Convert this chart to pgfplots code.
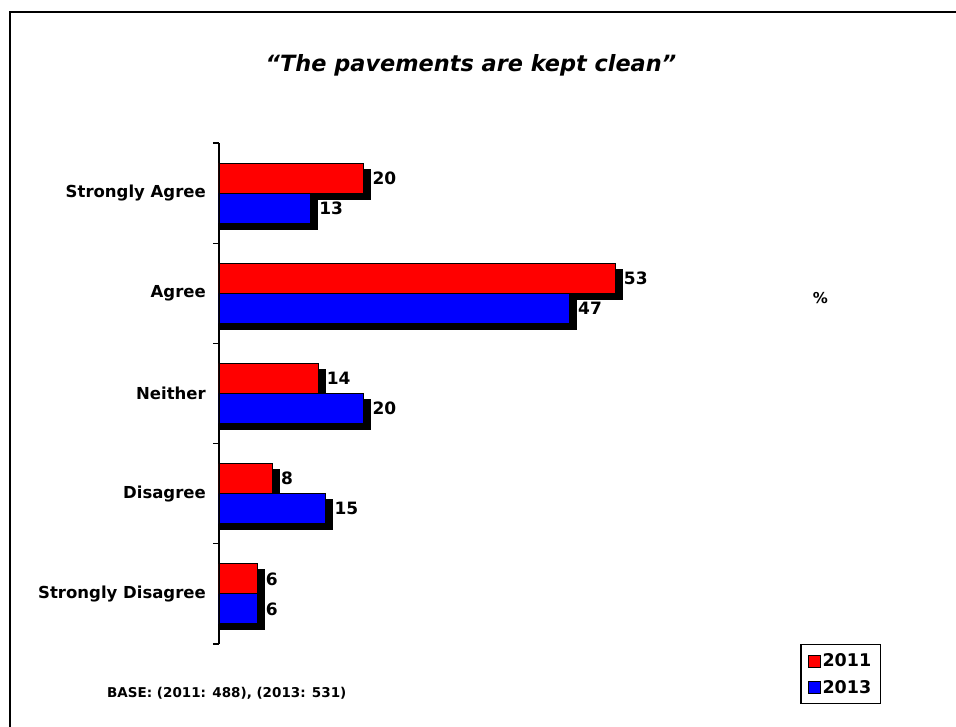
\documentclass[border=0pt]{standalone}
\usepackage{pgfplots}
\pgfplotsset{compat=1.18}
\usepackage{pgfplotstable}
\usepackage{fontspec}
\setmainfont{DejaVu Sans}
\pgfplotstableread{
pos y2011 y2013
4 20 13
3 53 47
2 14 20
1 8 15
0 6 6
}\datatable
\begin{document}
\begin{tikzpicture}[x=1pt,y=1pt]
\useasboundingbox (0,0) rectangle (956,727);
\fill[white] (0,0) rectangle (956,727);
\draw[line width=2pt] (10,0) -- (10,715) -- (956,715);
\node[anchor=base, font=\fontsize{22.4}{27}\selectfont\bfseries\itshape] at (471,655) {“The pavements are kept clean”};
\node[anchor=west, font=\fontsize{13.5}{16}\selectfont\bfseries, inner sep=0pt] at (107,34) {BASE: (2011: 488), (2013: 531)};
\node[anchor=center, font=\fontsize{15}{18}\selectfont\bfseries, inner sep=0pt] at (820.5,429) {\%};
\begin{axis}[
  at={(219pt,83pt)}, anchor=south west,
  scale only axis, width=444pt, height=501pt,
  xmin=1.0, xmax=59.3, ymin=-0.5, ymax=4.5,
  xbar, bar width=30pt,
  axis x line=none, axis y line=left,
  y axis line style={-, line width=1.2pt},
  ytick={0,...,4},
  yticklabels={Strongly Disagree, Disagree, Neither, Agree, Strongly Agree},
  major tick length=0pt,
  minor ytick={-0.5,0.5,...,4.5},
  minor tick length=6pt, tick align=outside,
  tick style={black, line width=1.2pt},
  yticklabel style={font=\fontsize{16.5}{20}\selectfont\bfseries, inner sep=0pt, xshift=-13pt},
  /pgf/number format/assume math mode=true,
  legend cell align=left,
  legend style={at={(rel axis cs:1.491,0)}, anchor=north east, draw=black, line width=1.5pt,
    font=\fontsize{17.5}{21}\selectfont\bfseries, inner xsep=7pt, inner ysep=7pt, row sep=8pt},
  legend image code/.code={\draw[#1, draw=black, line width=0.8pt] (0pt,-6pt) rectangle (12pt,6pt);},
]
\addplot[fill=black, draw=black, line width=0pt, bar shift=9pt, forget plot] table[x expr=\thisrow{y2011}+0.95, y=pos] \datatable;
\addplot[fill=red, draw=black, line width=0.8pt, bar shift=15pt,
  nodes near coords, every node near coord/.append style={font=\fontsize{17}{20}\selectfont\bfseries, anchor=west, inner sep=0pt, xshift=8.5pt}]
  table[x=y2011, y=pos] \datatable;
\addlegendentry{2011}
\addplot[fill=black, draw=black, line width=0pt, bar shift=-21pt, forget plot] table[x expr=\thisrow{y2013}+0.95, y=pos] \datatable;
\addplot[fill=blue, draw=black, line width=0.8pt, bar shift=-15pt,
  nodes near coords, every node near coord/.append style={font=\fontsize{17}{20}\selectfont\bfseries, anchor=west, inner sep=0pt, xshift=8.5pt}]
  table[x=y2013, y=pos] \datatable;
\addlegendentry{2013}
\end{axis}
\end{tikzpicture}
\end{document}
